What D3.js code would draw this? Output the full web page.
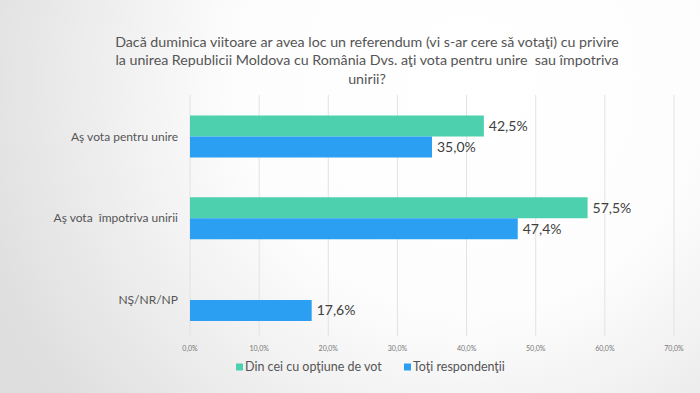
<!DOCTYPE html>
<html>
<head>
<meta charset="utf-8">
<script src="https://cdn.jsdelivr.net/npm/d3@7"></script>
<style>
html,body{margin:0;padding:0;background:#fff;}
svg{display:block;}
text{white-space:pre;}
</style>
</head>
<body>
<svg id="chart" width="700" height="393"></svg>
<script>
const titleLines = [
  "Dacă duminica viitoare ar avea loc un referendum (vi s-ar cere să votaţi) cu privire",
  "la unirea Republicii Moldova cu România Dvs. aţi vota pentru unire  sau împotriva",
  "unirii?"
];
const categories = ["Aş vota pentru unire", "Aş vota  împotriva unirii", "NŞ/NR/NP"];
const seriesNames = ["Din cei cu opţiune de vot", "Toţi respondenţii"];
const seriesVoters = [42.5, 57.5, null];
const seriesAll = [35.0, 47.4, 17.6];
const tickValues = [0, 10, 20, 30, 40, 50, 60, 70];
const colors = ["#4cd0ae", "#2ba0f2"];

const svg = d3.select("#chart");
const font = "Lato, 'Open Sans', sans-serif";

// background gradient
const defs = svg.append("defs");
const rg = defs.append("radialGradient").attr("id", "bg")
  .attr("gradientUnits", "userSpaceOnUse")
  .attr("cx", 470).attr("cy", 80).attr("r", 520);
rg.append("stop").attr("offset", "0%").attr("stop-color", "#ffffff");
rg.append("stop").attr("offset", "45%").attr("stop-color", "#fdfdfd");
rg.append("stop").attr("offset", "100%").attr("stop-color", "#dedede");
svg.append("rect").attr("width", 700).attr("height", 393).attr("fill", "url(#bg)");

const x = d3.scaleLinear().domain([0, 70]).range([190, 674]);
const y = d3.scalePoint().domain(categories).range([136.5, 300]);
const barH = 21;

// title
const title = svg.append("g");
titleLines.forEach((t, i) => {
  title.append("text")
    .attr("x", 367).attr("y", 46.5 + i * 18.5)
    .attr("text-anchor", "middle")
    .attr("font-family", font).attr("font-size", 13.5)
    .attr("fill", "#555").text(t);
});
const w0 = title.select("text").node().getComputedTextLength();
const fs = 13.5 * 504 / w0;
title.selectAll("text").attr("font-size", Math.min(15, fs));

// gridlines
svg.append("g").selectAll("line").data(tickValues).join("line")
  .attr("x1", d => x(d)).attr("x2", d => x(d))
  .attr("y1", 95).attr("y2", 336)
  .attr("stroke", "#e2e2e2").attr("stroke-width", 1);

// tick labels
const fmt = d => d3.format(".1f")(d).replace(".", ",") + "%";
svg.append("g").selectAll("text").data(tickValues).join("text")
  .attr("x", d => x(d)).attr("y", 351)
  .attr("text-anchor", "middle")
  .attr("font-family", font).attr("font-size", 7)
  .attr("fill", "#777").text(fmt);

// bars
const rows = categories.map((c, i) => ({c, v: [seriesVoters[i], seriesAll[i]]}));
const barData = [];
rows.forEach(r => r.v.forEach((v, s) => { if (v != null) barData.push({c: r.c, v, s}); }));

svg.append("g").selectAll("rect").data(barData).join("rect")
  .attr("x", x(0))
  .attr("y", d => y(d.c) + (d.s === 0 ? -barH : 0))
  .attr("width", d => x(d.v) - x(0))
  .attr("height", barH)
  .attr("fill", d => colors[d.s]);

// value labels
svg.append("g").selectAll("text").data(barData).join("text")
  .attr("x", d => x(d.v) + 5)
  .attr("y", d => y(d.c) + (d.s === 0 ? -barH / 2 : barH / 2))
  .attr("dy", "0.35em")
  .attr("font-family", font).attr("font-size", 14)
  .attr("fill", "#404040")
  .text(d => d3.format(".1f")(d.v).replace(".", ",") + "%");

// category labels
svg.append("g").selectAll("text").data(categories).join("text")
  .attr("x", 178).attr("y", d => y(d))
  .attr("dy", "0.35em")
  .attr("text-anchor", "end")
  .attr("font-family", font).attr("font-size", 12)
  .attr("fill", "#555").text(d => d);

// legend
const legX = [236, 404];
const leg = svg.append("g").selectAll("g").data(seriesNames).join("g")
  .attr("transform", (d, i) => `translate(${legX[i]},367)`);
leg.append("rect").attr("x", 0).attr("y", -3.5).attr("width", 7).attr("height", 7)
  .attr("fill", (d, i) => colors[i]);
leg.append("text").attr("x", 9).attr("dy", "0.35em")
  .attr("font-family", font).attr("font-size", 12.5)
  .attr("fill", "#555").text(d => d);
</script>
</body>
</html>
